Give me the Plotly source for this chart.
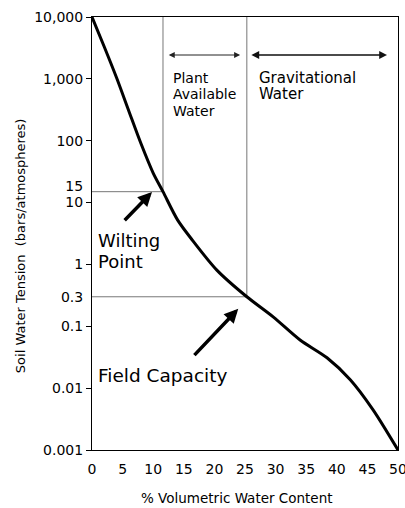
import math
import plotly.graph_objects as go

# Moisture release curve
vwc = [0, 2, 4, 6, 8, 10, 11.6, 14, 16.5, 20.4, 25.3, 29.6, 34.0, 38.4, 42.2, 45.9, 50]
tension = [10000, 3300, 1050, 306, 90, 30, 15, 5.2, 2.4, 0.81, 0.3, 0.142, 0.06, 0.031, 0.0137, 0.0045, 0.001]

wilting_vwc, wilting_t = 11.6, 15
field_vwc, field_t = 25.3, 0.3

x_ticks = [0, 5, 10, 15, 20, 25, 30, 35, 40, 45, 50]
y_ticks = [10000, 1000, 100, 10, 1, 0.1, 0.01, 0.001]
y_ticktext = ["10,000", "1,000", "100", "10", "1", "0.1", "0.01", "0.001"]

FONT = "DejaVu Sans"
GRAY = "#777"
TICK = 14

fig = go.Figure()

# reference lines
fig.add_trace(go.Scatter(x=[0, wilting_vwc, wilting_vwc], y=[wilting_t, wilting_t, 10000],
                         mode="lines", line=dict(color=GRAY, width=1), hoverinfo="skip"))
fig.add_trace(go.Scatter(x=[0, field_vwc, field_vwc], y=[field_t, field_t, 10000],
                         mode="lines", line=dict(color=GRAY, width=1), hoverinfo="skip"))
# curve
fig.add_trace(go.Scatter(x=vwc, y=tension, mode="lines",
                         line=dict(color="black", width=3, shape="spline", smoothing=0.8)))
# invisible traces on overlay axes for the special labels
fig.add_trace(go.Scatter(x=[0], y=[1], yaxis="y2", mode="markers", marker=dict(opacity=0), hoverinfo="skip"))
fig.add_trace(go.Scatter(x=[0], y=[1], yaxis="y3", mode="markers", marker=dict(opacity=0), hoverinfo="skip"))


def L(v):
    return math.log10(v)


ann = []
# double arrows at top
ann.append(dict(x=24.2, y=L(2430), ax=12.3, ay=L(2430), axref="x", ayref="y", xref="x", yref="y",
                text="", showarrow=True, arrowhead=2, startarrowhead=2, arrowside="end+start",
                arrowsize=1.2, startarrowsize=1.2, arrowwidth=1, arrowcolor="#222"))
ann.append(dict(x=48.2, y=L(2430), ax=25.8, ay=L(2430), axref="x", ayref="y", xref="x", yref="y",
                text="", showarrow=True, arrowhead=2, startarrowhead=2, arrowside="end+start",
                arrowsize=1.2, startarrowsize=1.2, arrowwidth=1.3, arrowcolor="#111"))
# region texts
for txt, yv in [("Plant", 3.015), ("Available", 2.75), ("Water", 2.485)]:
    ann.append(dict(x=12.9, y=yv, xref="x", yref="y", text=txt, showarrow=False, xanchor="left",
                    yanchor="middle", font=dict(family=FONT, size=14, color="black")))
for txt, yv in [("Gravitational", 3.015), ("Water", 2.75)]:
    ann.append(dict(x=27.0, y=yv, xref="x", yref="y", text=txt, showarrow=False, xanchor="left",
                    yanchor="middle", font=dict(family=FONT, size=15, color="black")))
for txt, yv in [("Wilting", 0.39), ("Point", 0.05)]:
    ann.append(dict(x=0.6, y=yv, xref="x", yref="y", text=txt, showarrow=False, xanchor="left",
                    yanchor="middle", font=dict(family=FONT, size=18, color="black")))
ann.append(dict(x=0.6, y=-1.8, xref="x", yref="y", text="Field Capacity", showarrow=False,
                xanchor="left", yanchor="middle", font=dict(family=FONT, size=18.5, color="black")))
# pointer arrows
ann.append(dict(x=9.8, y=1.17, ax=5.1, ay=0.69, axref="x", ayref="y", xref="x", yref="y",
                text="", showarrow=True, arrowhead=2, arrowsize=0.8, arrowwidth=3.5, arrowcolor="black"))
ann.append(dict(x=23.9, y=-0.717, ax=16.5, ay=-1.49, axref="x", ayref="y", xref="x", yref="y",
                text="", showarrow=True, arrowhead=2, arrowsize=0.8, arrowwidth=3.5, arrowcolor="black"))
# axis titles
ann.append(dict(x=-0.235, y=0.471, xref="paper", yref="paper", xanchor="center", yanchor="middle",
                text="Soil Water Tension\u00a0 (bars/atmospheres)",
                showarrow=False, textangle=-90, font=dict(family=FONT, size=13, color="black")))
ann.append(dict(x=0.474, y=-0.111, xref="paper", yref="paper", xanchor="center", yanchor="middle",
                text="% Volumetric Water Content",
                showarrow=False, font=dict(family=FONT, size=13.5, color="black")))

common_y = dict(type="log", range=[-3, 4], showgrid=False, zeroline=False, automargin=False,
                tickfont=dict(family=FONT, size=TICK))

fig.update_layout(
    width=405, height=508,
    margin=dict(l=92, r=7, t=17, b=58, autoexpand=False),
    paper_bgcolor="white", plot_bgcolor="white",
    showlegend=False,
    font=dict(family=FONT, size=13, color="black"),
    annotations=ann,
    xaxis=dict(range=[0, 50], tickvals=x_ticks, ticks="outside", ticklen=6, tickcolor="rgba(0,0,0,0)",
               showgrid=False, zeroline=False, showline=True, linecolor="black", linewidth=1, mirror=True,
               automargin=False, ticklabeloverflow="allow", tickfont=dict(family=FONT, size=TICK)),
    yaxis=dict(**common_y, tickvals=y_ticks, ticktext=y_ticktext, ticks="outside", ticklen=5,
               tickcolor="black", showline=True, linecolor="black", linewidth=1, mirror=True),
    yaxis2=dict(**common_y, overlaying="y", side="left", tickvals=[wilting_t], ticktext=["15"],
                ticks="outside", ticklen=5, tickcolor="rgba(0,0,0,0)", showline=False, ticklabelshift=-6),
    yaxis3=dict(**common_y, overlaying="y", side="left", tickvals=[field_t], ticktext=["0.3"],
                ticks="outside", ticklen=5, tickcolor="rgba(0,0,0,0)", showline=False),
)

fig.write_html("out.html", config={"displayModeBar": False},
               post_script="document.body.style.margin='0';")
